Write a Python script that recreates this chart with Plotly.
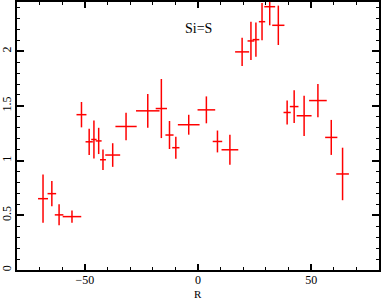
import plotly.graph_objects as go

r = [-68.5, -64.6, -61.4, -55.7, -51.5, -48.1, -46.0, -43.9, -42.0, -37.7,
     -31.8, -22.2, -16.2, -12.6, -9.8, -4.1, 3.7, 8.6, 14.1, 19.5,
     23.4, 25.6, 28.3, 31.7, 35.5, 39.4, 42.5, 46.9, 53.0, 58.9, 63.9]
r_err = [2.2, 1.9, 1.9, 4.1, 2.2, 1.6, 1.2, 1.3, 1.3, 3.3,
         4.7, 5.2, 2.5, 1.8, 1.6, 4.8, 3.9, 2.1, 3.7, 3.1,
         1.5, 1.5, 1.4, 2.4, 2.7, 1.6, 1.9, 3.3, 3.9, 2.7, 2.8]
ratio = [0.652, 0.698, 0.504, 0.488, 1.42, 1.172, 1.193, 1.18, 1.008, 1.051,
         1.312, 1.455, 1.476, 1.234, 1.118, 1.328, 1.464, 1.175, 1.099, 1.994,
         2.094, 2.106, 2.27, 2.407, 2.237, 1.44, 1.494, 1.41, 1.549, 1.212, 0.878]
ratio_err = [0.22, 0.116, 0.096, 0.055, 0.116, 0.12, 0.173, 0.12, 0.094, 0.108,
             0.126, 0.155, 0.27, 0.128, 0.1, 0.091, 0.123, 0.1, 0.137, 0.13,
             0.175, 0.156, 0.17, 0.17, 0.18, 0.11, 0.15, 0.184, 0.152, 0.16, 0.24]

FONT = "Liberation Serif, Times New Roman, serif"

fig = go.Figure()
fig.add_trace(go.Scatter(
    x=r, y=ratio, mode="markers",
    marker=dict(size=0.1, color="red"),
    error_x=dict(type="data", array=r_err, width=0, thickness=1.5, color="red"),
    error_y=dict(type="data", array=ratio_err, width=0, thickness=1.5, color="red"),
    showlegend=False, cliponaxis=True,
))

axis_common = dict(
    showline=True, linecolor="black", linewidth=1.5, mirror="allticks",
    ticks="inside", tickcolor="black", tickwidth=1.5,
    showgrid=False, zeroline=False, automargin=False,
)

fig.update_xaxes(range=[-80, 80], dtick=50, tick0=0, ticklen=6,
                 tickfont=dict(family=FONT, size=12, color="black"),
                 ticklabelstandoff=-2,
                 minor=dict(ticks="inside", dtick=10, ticklen=3, tickcolor="black", tickwidth=1),
                 **axis_common)
fig.update_yaxes(range=[0, 2.45], dtick=0.5, tick0=0, ticklen=7, tickangle=-90,
                 tickfont=dict(family=FONT, size=12, color="black"),
                 ticklabelstandoff=-1,
                 minor=dict(ticks="inside", dtick=0.1, ticklen=3, tickcolor="black", tickwidth=1),
                 **axis_common)

fig.add_annotation(text="Si=S", x=0, xref="x", y=0.935, yref="paper",
                   showarrow=False, font=dict(family=FONT, size=14, color="black"))
fig.add_annotation(text="R", x=0, xref="x", y=-0.116, yref="paper", yanchor="bottom",
                   borderpad=0,
                   showarrow=False, font=dict(family=FONT, size=11, color="black"))

fig.update_layout(
    width=382, height=302,
    margin=dict(l=17, r=3, t=2, b=32),
    paper_bgcolor="white", plot_bgcolor="white",
)

fig.write_html("out.html", config={"displayModeBar": False},
               post_script="document.body.style.margin='0px';document.body.style.padding='0px';")
